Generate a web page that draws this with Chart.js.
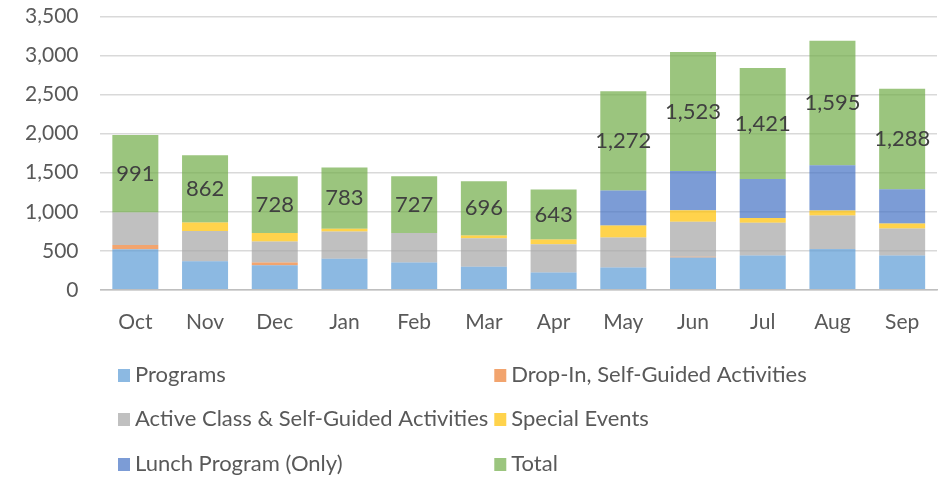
<!DOCTYPE html>
<html>
<head>
<meta charset="utf-8">
<script src="https://cdn.jsdelivr.net/npm/chart.js@4"></script>
<style>
  html, body { margin: 0; padding: 0; background: #fff; }
  #wrap { width: 941px; height: 477px; }
</style>
</head>
<body>
<div id="wrap"><canvas id="visits"></canvas></div>
<script>
const months = ["Oct", "Nov", "Dec", "Jan", "Feb", "Mar", "Apr", "May", "Jun", "Jul", "Aug", "Sep"];
const programs = [520, 365, 316, 397, 350, 295, 222, 286, 414, 440, 522, 440];
const dropIn = [55, 0, 34, 0, 0, 0, 0, 0, 10, 0, 0, 0];
const activeClass = [416, 387, 270, 351, 377, 365, 363, 385, 449, 420, 431, 346];
const specialEvents = [0, 110, 108, 35, 0, 36, 58, 154, 145, 60, 64, 64];
const lunchProgram = [0, 0, 0, 0, 0, 0, 0, 447, 505, 501, 578, 438];
const totals = [991, 862, 728, 783, 727, 696, 643, 1272, 1523, 1421, 1595, 1288];
const yTicks = [0, 500, 1000, 1500, 2000, 2500, 3000, 3500];

const FONT = "Lato, 'Open Sans', sans-serif";
const fmt = n => n.toLocaleString("en-US");

const series = [
  { label: "Programs", data: programs, color: "rgba(91,155,213,0.7)" },
  { label: "Drop-In, Self-Guided Activities", data: dropIn, color: "rgba(237,125,49,0.7)" },
  { label: "Active Class & Self-Guided Activities", data: activeClass, color: "rgba(165,165,165,0.7)" },
  { label: "Special Events", data: specialEvents, color: "rgba(255,192,0,0.7)" },
  { label: "Lunch Program (Only)", data: lunchProgram, color: "rgba(68,114,196,0.7)" },
  { label: "Total", data: totals, color: "rgba(112,173,71,0.7)" }
];

// value labels in the middle of the Total segment
const totalLabels = {
  id: "totalLabels",
  afterDatasetsDraw(chart) {
    const ctx = chart.ctx;
    const idx = chart.data.datasets.length - 1;
    const meta = chart.getDatasetMeta(idx);
    ctx.save();
    ctx.font = "22px " + FONT;
    ctx.fillStyle = "#404040";
    ctx.textAlign = "center";
    ctx.textBaseline = "middle";
    meta.data.forEach((bar, i) => {
      const mid = (bar.y + bar.base) / 2;
      ctx.fillText(fmt(chart.data.datasets[idx].data[i]), bar.x, mid);
    });
    ctx.restore();
  }
};

// two-column legend under the plot
const gridLegend = {
  id: "gridLegend",
  afterDraw(chart) {
    const ctx = chart.ctx;
    const sets = chart.data.datasets;
    const rows = [375, 419, 464];
    ctx.save();
    ctx.font = "22px " + FONT;
    ctx.textBaseline = "middle";
    const col1 = 118;
    let maxW = 0;
    sets.forEach((ds, i) => { if (i % 2 == 0) maxW = Math.max(maxW, ctx.measureText(ds.label).width); });
    const col2 = col1 + 17 + maxW + 6;
    sets.forEach((ds, i) => {
      const x = i % 2 == 0 ? col1 : col2;
      const y = rows[Math.floor(i / 2)];
      ctx.fillStyle = ds.backgroundColor;
      ctx.fillRect(x, y - 6, 12, 13);
      ctx.fillStyle = "#595959";
      ctx.fillText(ds.label, x + 17, y);
    });
    ctx.restore();
  }
};

new Chart("visits", {
  type: "bar",
  data: {
    labels: months,
    datasets: series.map(s => ({
      label: s.label,
      data: s.data,
      backgroundColor: s.color,
      borderWidth: 0,
      barPercentage: 0.66,
      categoryPercentage: 1
    }))
  },
  options: {
    responsive: true,
    maintainAspectRatio: false,
    animation: false,
    layout: { padding: { top: 0, right: 4, bottom: 130, left: 21 } },
    plugins: {
      legend: { display: false },
      tooltip: { enabled: false }
    },
    scales: {
      x: {
        stacked: true,
        grid: { display: false },
        border: { color: "#bfbfbf", width: 1.5 },
        ticks: { color: "#595959", font: { family: FONT, size: 21 }, padding: 12 }
      },
      y: {
        stacked: true,
        min: 0,
        max: 3500,
        afterBuildTicks: axis => { axis.ticks = yTicks.map(v => ({ value: v })); },
        // invisible tick marks keep the labels clear of the plot
        grid: { color: "#d9d9d9", lineWidth: 1.5, drawTicks: true, tickLength: 18, tickColor: "rgba(0,0,0,0)" },
        border: { display: false },
        ticks: {
          color: "#595959",
          font: { family: FONT, size: 21 },
          padding: 4,
          callback: v => fmt(v)
        }
      }
    }
  },
  plugins: [totalLabels, gridLegend]
});
</script>
</body>
</html>
